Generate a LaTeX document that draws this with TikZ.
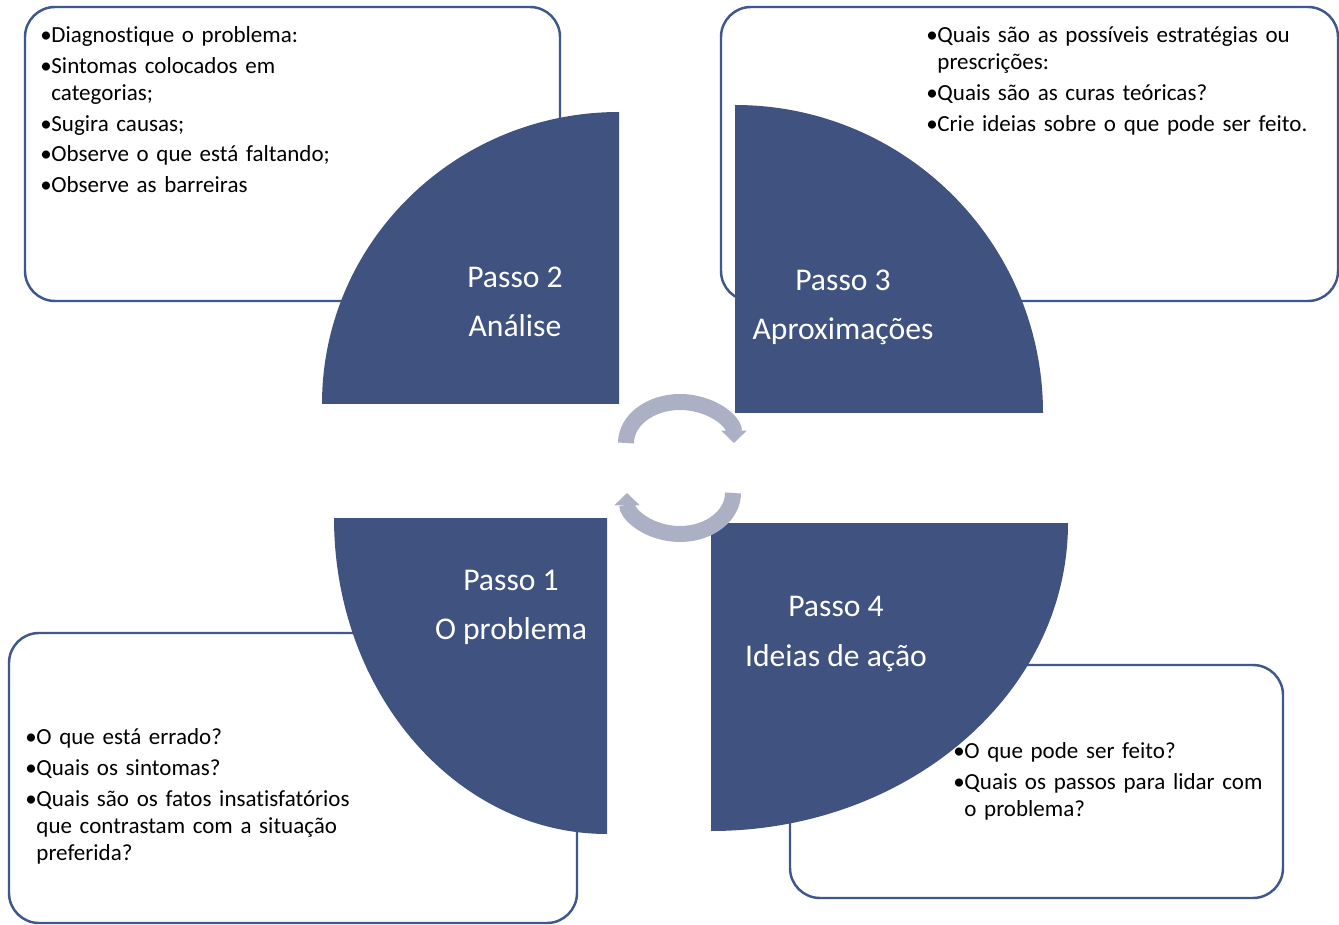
\documentclass[tikz,border=0pt]{standalone}
\usepackage{fontspec}
\setmainfont{Carlito}[Ligatures=NoCommon]
\usetikzlibrary{arrows.meta}
\definecolor{stepblue}{RGB}{63,82,128}
\definecolor{boxline}{RGB}{62,87,140}
\definecolor{cyclegray}{RGB}{171,176,196}
\newcommand{\bul}{\par\setlength{\parskip}{2pt}\noindent\hangindent=6.3pt\hangafter=1\makebox[6.3pt][l]{•}}

\begin{document}
\begin{tikzpicture}[
    x=0.02cm, y=0.02cm,
    infobox/.style={draw=boxline, line width=1.4pt, fill=white, rounded corners=0.6cm},
    quarter/.style={fill=stepblue},
    steplabel/.style={text=white, font=\fontsize{18}{28}\selectfont, align=center, inner sep=0pt},
    listtext/.style={font=\fontsize{13.1}{15.4}\selectfont, text width=9cm, align=left, inner sep=0pt, anchor=north west},
    cyclearrow/.style={draw=cyclegray, line width=0.32cm, -{Triangle[length=7pt, width=14pt]}},
]
    \useasboundingbox (0,0) rectangle (1339,924);
    % text boxes behind the quarters
    \draw[infobox] (25,623) rectangle (560,917);
    \draw[infobox] (721,623) rectangle (1338,917);
    \draw[infobox] (9,1) rectangle (577,291);
    \draw[infobox] (790,26) rectangle (1283,259);
    % the four quarters
    \fill[quarter] (619,520) -- (322,520) arc[start angle=180, end angle=90, x radius=297, y radius=292] -- cycle;
    \fill[quarter] (735,511) -- (735,819) arc[start angle=90, end angle=0, radius=308] -- cycle;
    \fill[quarter] (607,406) -- (334,406) arc[start angle=180, end angle=270, x radius=273, y radius=316] -- cycle;
    \fill[quarter] (711,401) -- (1068,401) arc[start angle=0, end angle=-90, x radius=357, y radius=308] -- cycle;
    % cycle arrows
    \coordinate (cyctop) at (626,481);
    \coordinate (cycbot) at (733,431);
    \draw[cyclearrow] (cyctop) arc[start angle=180, end angle=0, x radius=54, y radius=41];
    \draw[cyclearrow] (cycbot) arc[start angle=0, end angle=-180, x radius=53, y radius=41];
    % step labels
    \node[steplabel] (passo2) at (515,622) {Passo 2\\Análise};
    \node[steplabel] (passo3) at (843,617) {Passo 3\\Aproximações};
    \node[steplabel] (passo1) at (511,317) {Passo 1\\O problema};
    \node[steplabel] (passo4) at (836,290) {Passo 4\\Ideias de ação};
    % lists
    \node[listtext] (analise) at (40,912) {\bul Diagnostique o problema:
        \bul Sintomas colocados em\newline categorias;
        \bul Sugira causas;
        \bul Observe o que está faltando;
        \bul Observe as barreiras\par};
    \node[listtext] (aprox) at (926,912) {\bul Quais são as possíveis estratégias ou\newline prescrições:
        \bul Quais são as curas teóricas?
        \bul Crie ideias sobre o que pode ser feito.\par};
    \node[listtext] (problema) at (25,210) {\bul O que está errado?
        \bul Quais os sintomas?
        \bul Quais são os fatos insatisfatórios\newline que contrastam com a situação\newline preferida?\par};
    \node[listtext] (ideias) at (953,196) {\bul O que pode ser feito?
        \bul Quais os passos para lidar com\newline o problema?\par};
\end{tikzpicture}
\end{document}
